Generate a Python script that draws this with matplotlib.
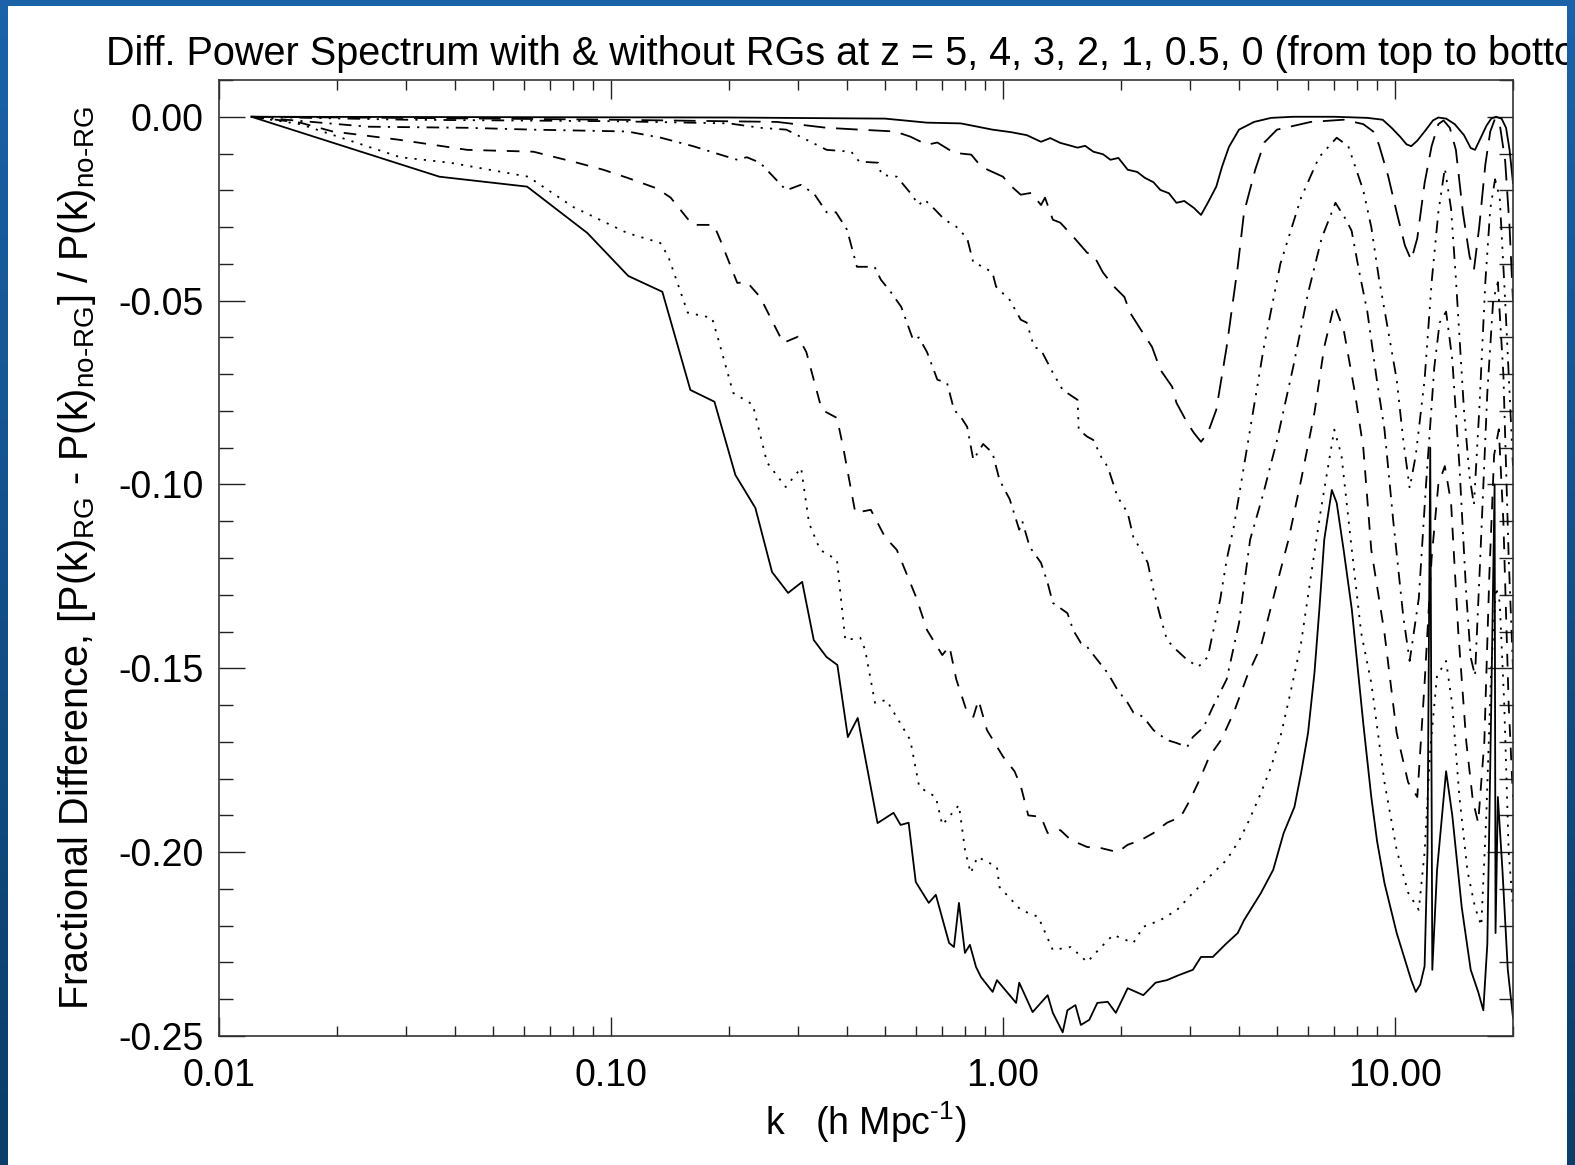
import matplotlib
matplotlib.use("Agg")
import matplotlib.pyplot as plt
import numpy as np
from matplotlib.patches import Rectangle
from matplotlib.colors import LinearSegmentedColormap
from matplotlib.ticker import FixedLocator, LogLocator, NullFormatter, MultipleLocator

plt.rcParams['font.family'] = ['Liberation Sans', 'DejaVu Sans']
plt.rcParams['mathtext.fontset'] = 'custom'
plt.rcParams['mathtext.rm'] = 'Liberation Sans'
plt.rcParams['mathtext.it'] = 'Liberation Sans:italic'

# (k, fractional difference), z = 5 ... 0
z5 = [(0.0121, 0.0), (0.05, -0.0001), (0.2, -0.0002), (0.5, -0.0005), (0.64, -0.0016), (0.78, -0.0018),
      (0.94, -0.0035), (1.05, -0.0042), (1.15, -0.005), (1.25, -0.0068), (1.32, -0.0058), (1.40, -0.0071),
      (1.48, -0.0078), (1.55, -0.0084), (1.62, -0.0079), (1.7, -0.0095), (1.8, -0.0102), (1.88, -0.0117),
      (1.97, -0.0112), (2.08, -0.0144), (2.2, -0.015), (2.3, -0.0166), (2.42, -0.0178), (2.52, -0.0199),
      (2.65, -0.0208), (2.77, -0.0234), (2.9, -0.0229), (3.07, -0.0248), (3.2, -0.0267), (3.33, -0.0234),
      (3.5, -0.019), (3.62, -0.0136), (3.77, -0.0082), (4.0, -0.0035), (4.37, -0.0014), (4.83, -0.0003),
      (5.5, 0.0), (7.0, 0.0), (8.5, -0.0003), (9.3, -0.0008), (9.8, -0.003), (10.3, -0.0054), (10.7, -0.0075),
      (11.0, -0.008), (11.4, -0.0065), (12.0, -0.0035), (12.5, -0.001), (12.9, -0.0002), (13.5, -0.0005),
      (14.2, -0.002), (15.0, -0.005), (15.6, -0.0085), (16.0, -0.009), (16.5, -0.006), (17.1, -0.0025),
      (17.6, -0.0005), (18.1, 0.0), (18.7, -0.0005), (19.2, -0.003), (19.6, -0.009), (20.0, -0.018)]

z4 = [(0.0121, 0.0), (0.05, -0.0005), (0.1, -0.0008), (0.265, -0.0014), (0.355, -0.003), (0.43, -0.0035),
      (0.53, -0.004), (0.58, -0.0054), (0.64, -0.0076), (0.68, -0.007), (0.75, -0.0098), (0.83, -0.0103),
      (0.88, -0.0136), (0.94, -0.015), (1.0, -0.0163), (1.04, -0.0185), (1.11, -0.0212), (1.18, -0.0207),
      (1.25, -0.024), (1.28, -0.022), (1.34, -0.028), (1.40, -0.0288), (1.51, -0.0326), (1.64, -0.037),
      (1.7, -0.0375), (1.8, -0.0424), (1.92, -0.0462), (2.04, -0.049), (2.11, -0.0533), (2.25, -0.058),
      (2.4, -0.0626), (2.52, -0.0688), (2.7, -0.0734), (2.77, -0.0778), (2.95, -0.0832), (3.07, -0.086),
      (3.2, -0.0884), (3.33, -0.086), (3.5, -0.0797), (3.72, -0.0626), (3.97, -0.0408), (4.12, -0.026),
      (4.4, -0.0144), (4.64, -0.007), (5.0, -0.0035), (6.1, -0.0014), (7.4, -0.0008), (8.3, -0.002),
      (8.8, -0.004), (9.1, -0.0076), (9.6, -0.016), (10.1, -0.026), (10.6, -0.035), (11.0, -0.039),
      (11.4, -0.033), (11.9, -0.018), (12.4, -0.008), (12.9, -0.002), (13.3, -0.001), (13.8, -0.003),
      (14.3, -0.009), (14.9, -0.026), (15.5, -0.038), (15.9, -0.0416), (16.4, -0.03), (17.0, -0.013),
      (17.5, -0.004), (18.0, -0.0005), (18.5, -0.002), (19.1, -0.012), (19.6, -0.03), (20.0, -0.05)]

z3 = [(0.0121, 0.0), (0.03, -0.0008), (0.1, -0.0012), (0.2, -0.0018), (0.24, -0.003), (0.28, -0.0035),
      (0.355, -0.009), (0.41, -0.0095), (0.43, -0.0122), (0.48, -0.0125), (0.49, -0.0158), (0.536, -0.0163),
      (0.58, -0.0207), (0.61, -0.024), (0.63, -0.0225), (0.66, -0.0245), (0.71, -0.028), (0.76, -0.0299),
      (0.81, -0.033), (0.84, -0.0397), (0.89, -0.0408), (0.94, -0.0424), (0.96, -0.0462), (1.04, -0.0498),
      (1.11, -0.0552), (1.15, -0.056), (1.20, -0.0626), (1.25, -0.0634), (1.34, -0.0696), (1.42, -0.0743),
      (1.55, -0.077), (1.56, -0.0851), (1.64, -0.087), (1.70, -0.0879), (1.78, -0.0925), (1.85, -0.0952),
      (1.96, -0.1034), (2.08, -0.1077), (2.15, -0.1143), (2.27, -0.1186), (2.34, -0.1213), (2.42, -0.1287),
      (2.52, -0.136), (2.62, -0.1423), (2.77, -0.145), (2.95, -0.1477), (3.15, -0.1496), (3.33, -0.1469),
      (3.43, -0.1404), (3.58, -0.1314), (3.72, -0.1205), (3.88, -0.1115), (4.27, -0.085), (4.64, -0.062),
      (5.1, -0.04), (5.76, -0.022), (6.4, -0.011), (7.1, -0.0057), (7.6, -0.008), (8.3, -0.02), (8.7, -0.03),
      (9.1, -0.044), (9.6, -0.058), (10.1, -0.0715), (10.5, -0.088), (10.9, -0.101), (11.3, -0.092),
      (11.9, -0.0715), (12.4, -0.045), (12.9, -0.026), (13.4, -0.014), (13.9, -0.025), (14.3, -0.044),
      (15.0, -0.08), (15.5, -0.098), (15.9, -0.1055), (16.4, -0.08), (17.0, -0.045), (17.5, -0.025),
      (18.0, -0.017), (18.5, -0.022), (19.1, -0.05), (19.6, -0.075), (20.0, -0.095)]

z2 = [(0.0121, 0.0), (0.024, -0.0027), (0.043, -0.003), (0.063, -0.0035), (0.11, -0.004), (0.134, -0.0057),
      (0.162, -0.008), (0.19, -0.0103), (0.21, -0.0117), (0.222, -0.011), (0.24, -0.0125), (0.28, -0.02),
      (0.305, -0.0185), (0.33, -0.021), (0.355, -0.026), (0.375, -0.026), (0.40, -0.0307), (0.424, -0.0408),
      (0.47, -0.0408), (0.488, -0.0443), (0.52, -0.048), (0.55, -0.0517), (0.59, -0.0607), (0.61, -0.060),
      (0.64, -0.064), (0.68, -0.0715), (0.72, -0.0724), (0.75, -0.0797), (0.78, -0.0816), (0.81, -0.0843),
      (0.84, -0.0933), (0.89, -0.089), (0.94, -0.0914), (0.98, -0.0988), (1.04, -0.104), (1.10, -0.1123),
      (1.12, -0.110), (1.17, -0.117), (1.25, -0.1213), (1.30, -0.1268), (1.34, -0.1322), (1.46, -0.135),
      (1.51, -0.1396), (1.58, -0.1431), (1.64, -0.1442), (1.74, -0.1477), (1.85, -0.1513), (1.96, -0.1559),
      (2.08, -0.1594), (2.15, -0.162), (2.28, -0.1632), (2.42, -0.1668), (2.62, -0.1695), (2.77, -0.1703),
      (2.95, -0.1714), (3.05, -0.1687), (3.25, -0.166), (3.43, -0.1605), (3.72, -0.153), (4.0, -0.1377),
      (4.27, -0.115), (4.6, -0.103), (5.0, -0.088), (5.5, -0.068), (6.0, -0.048), (6.5, -0.033),
      (7.05, -0.0234), (7.5, -0.028), (7.75, -0.031), (8.1, -0.042), (8.5, -0.053), (9.0, -0.072),
      (9.4, -0.085), (9.9, -0.11), (10.5, -0.136), (10.9, -0.148), (11.5, -0.131), (12.0, -0.10),
      (12.6, -0.068), (13.0, -0.056), (13.5, -0.053), (14.0, -0.066), (14.6, -0.095), (15.2, -0.13),
      (15.6, -0.147), (16.0, -0.152), (16.5, -0.12), (17.2, -0.075), (17.8, -0.05), (18.3, -0.045),
      (18.9, -0.07), (19.5, -0.12), (20.0, -0.15)]

z1 = [(0.0121, 0.0), (0.0161, -0.0016), (0.0195, -0.004), (0.029, -0.0063), (0.043, -0.009), (0.0634, -0.0095),
      (0.082, -0.0125), (0.0955, -0.0144), (0.1101, -0.0166), (0.131, -0.0195), (0.142, -0.022),
      (0.1614, -0.0294), (0.183, -0.0294), (0.19, -0.0335), (0.21, -0.0452), (0.222, -0.0449), (0.24, -0.049),
      (0.275, -0.0615), (0.30, -0.0598), (0.315, -0.064), (0.345, -0.0797), (0.377, -0.0819), (0.391, -0.0898),
      (0.42, -0.1077), (0.46, -0.1069), (0.50, -0.1143), (0.536, -0.1178), (0.60, -0.1306), (0.64, -0.1396),
      (0.70, -0.1464), (0.73, -0.144), (0.76, -0.153), (0.81, -0.162), (0.84, -0.1632), (0.866, -0.1586),
      (0.91, -0.1668), (1.0, -0.174), (1.07, -0.178), (1.11, -0.182), (1.16, -0.190), (1.25, -0.1904),
      (1.30, -0.1948), (1.40, -0.194), (1.49, -0.1967), (1.64, -0.1986), (1.78, -0.1989), (1.96, -0.2),
      (2.08, -0.198), (2.25, -0.1967), (2.42, -0.1948), (2.62, -0.192), (2.84, -0.1904), (3.0, -0.1858),
      (3.17, -0.1804), (3.36, -0.174), (3.6, -0.1695), (3.88, -0.162), (4.2, -0.152), (4.55, -0.144),
      (5.0, -0.127), (5.35, -0.115), (5.76, -0.0988), (6.23, -0.0805), (6.6, -0.0626), (7.0, -0.0511),
      (7.4, -0.058), (7.9, -0.075), (8.3, -0.09), (8.7, -0.1178), (9.4, -0.1404), (10.1, -0.1676),
      (10.8, -0.181), (11.4, -0.185), (11.9, -0.154), (12.4, -0.12), (12.9, -0.10), (13.4, -0.095),
      (13.9, -0.105), (14.5, -0.14), (15.2, -0.17), (15.8, -0.186), (16.3, -0.192), (16.9, -0.17),
      (17.4, -0.125), (17.9, -0.092), (18.4, -0.085), (18.9, -0.11), (19.5, -0.16), (20.0, -0.185)]

z05 = [(0.0121, 0.0), (0.0161, -0.002), (0.029, -0.011), (0.0389, -0.0125), (0.0615, -0.0163), (0.080, -0.0245),
       (0.110, -0.0316), (0.1335, -0.0343), (0.14, -0.038), (0.157, -0.0533), (0.181, -0.0547),
       (0.188, -0.0607), (0.205, -0.0751), (0.230, -0.0783), (0.25, -0.094), (0.279, -0.1007),
       (0.3055, -0.0955), (0.32, -0.1105), (0.3415, -0.1178), (0.377, -0.1205), (0.396, -0.1423),
       (0.4325, -0.1417), (0.445, -0.145), (0.4715, -0.1594), (0.504, -0.1586), (0.58, -0.1695),
       (0.6115, -0.1823), (0.674, -0.185), (0.70, -0.1926), (0.772, -0.1872), (0.80, -0.1994),
       (0.827, -0.2057), (0.861, -0.2013), (0.965, -0.204), (0.98, -0.2095), (1.11, -0.2157),
       (1.23, -0.2176), (1.34, -0.2266), (1.49, -0.2258), (1.64, -0.2299), (1.78, -0.2258), (1.91, -0.2225),
       (2.15, -0.2247), (2.28, -0.2203), (2.52, -0.2185), (2.78, -0.2157), (3.05, -0.2111), (3.36, -0.2067),
       (3.72, -0.2021), (4.01, -0.1967), (4.25, -0.1912), (4.55, -0.1839), (4.83, -0.1768), (5.13, -0.1676),
       (5.43, -0.1559), (5.76, -0.1431), (6.12, -0.124), (6.49, -0.106), (7.0, -0.0851), (7.3, -0.092),
       (7.76, -0.1178), (8.2, -0.1404), (8.7, -0.154), (9.4, -0.181), (10.1, -0.1994), (10.8, -0.211),
       (11.5, -0.2157), (11.9, -0.20), (12.3, -0.172), (12.8, -0.152), (13.5, -0.148), (14.0, -0.16),
       (14.6, -0.185), (15.3, -0.205), (16.0, -0.215), (16.6, -0.220), (17.1, -0.19), (17.6, -0.15),
       (18.1, -0.128), (18.5, -0.132), (19.0, -0.16), (19.5, -0.20), (20.0, -0.215)]

z0 = [(0.0121, 0.0), (0.0365, -0.0163), (0.0611, -0.019), (0.087, -0.0316), (0.1107, -0.0433), (0.1352, -0.0476),
      (0.1594, -0.0743), (0.1836, -0.0775), (0.2076, -0.0974), (0.2335, -0.1064), (0.2575, -0.1238),
      (0.283, -0.1295), (0.3074, -0.1265), (0.329, -0.1423), (0.3545, -0.1469), (0.378, -0.1491),
      (0.402, -0.1687), (0.426, -0.1635), (0.4786, -0.1921), (0.5257, -0.1893), (0.548, -0.1926),
      (0.5745, -0.192), (0.599, -0.2081), (0.6465, -0.2138), (0.674, -0.2116), (0.7286, -0.2247),
      (0.7497, -0.2258), (0.772, -0.2138), (0.7997, -0.2274), (0.8234, -0.2252), (0.8533, -0.2312),
      (0.879, -0.234), (0.941, -0.238), (0.965, -0.2348), (1.08, -0.241), (1.1, -0.2355), (1.19, -0.2435),
      (1.30, -0.2389), (1.34, -0.2437), (1.42, -0.249), (1.46, -0.243), (1.53, -0.2416), (1.58, -0.247),
      (1.66, -0.2456), (1.74, -0.241), (1.85, -0.2407), (1.94, -0.2437), (2.08, -0.237), (2.28, -0.2389),
      (2.45, -0.2355), (2.62, -0.2348), (2.8, -0.2335), (3.05, -0.232), (3.2, -0.2285), (3.43, -0.2285),
      (3.7, -0.225), (3.97, -0.222), (4.12, -0.2185), (4.55, -0.2111), (4.89, -0.2048), (5.2, -0.1948),
      (5.54, -0.1877), (5.76, -0.1785), (6.0, -0.1676), (6.23, -0.1513), (6.42, -0.1333), (6.6, -0.115),
      (6.9, -0.1015), (7.1, -0.105), (7.4, -0.118), (7.76, -0.134), (8.3, -0.165), (8.7, -0.185),
      (9.0, -0.197), (9.4, -0.2084), (10.1, -0.222), (11.0, -0.2348), (11.3, -0.238), (11.6, -0.236),
      (11.9, -0.231), (12.1, -0.20), (12.3, -0.09), (12.45, -0.232), (12.8, -0.205), (13.5, -0.178),
      (14.0, -0.19), (14.8, -0.215), (15.6, -0.232), (16.3, -0.238), (16.8, -0.243), (17.2, -0.225),
      (17.6, -0.16), (17.95, -0.10), (18.05, -0.222), (18.3, -0.185), (18.8, -0.205), (19.4, -0.232),
      (20.0, -0.245)]

curves = [z5, z4, z3, z2, z1, z05, z0]
# IDL-like line styles: solid, long dash, dash-dot-dot-dot, dash-dot, dashed, dotted, solid
styles = ['-', (0, (12, 6)), (0, (7, 4, 1.2, 4, 1.2, 4, 1.2, 4)), (0, (7, 4, 1.2, 4)),
          (0, (7, 6)), (0, (1.2, 4)), '-']

xticks = [0.01, 0.1, 1.0, 10.0]
xticklabels = ['0.01', '0.10', '1.00', '10.00']
yticks = [-0.25, -0.20, -0.15, -0.10, -0.05, 0.0]
yticklabels = ['-0.25', '-0.20', '-0.15', '-0.10', '-0.05', '0.00']

W, H = 1575, 1165
fig = plt.figure(figsize=(W / 100, H / 100), dpi=100)

# blue slide background with white card
bg = fig.add_axes([0, 0, 1, 1], zorder=-10)
grad = np.linspace(0, 1, 64).reshape(-1, 1)
bg.imshow(grad, aspect='auto', extent=[0, 1, 0, 1],
          cmap=LinearSegmentedColormap.from_list('slide', ['#1b62a8', '#0b3e69']))
bg.axis('off')
card = Rectangle((8 / W, 0), (1567 - 8) / W, (H - 6) / H, transform=fig.transFigure,
                 facecolor='white', edgecolor='none', zorder=-5)
fig.add_artist(card)

ax = fig.add_axes([219 / W, 1 - 1036 / H, (1513 - 219) / W, (1036 - 80) / H])
for data, ls in zip(curves, styles):
    k, d = np.array(data).T
    ax.plot(k, d, color='black', lw=1.3, linestyle=ls)

ax.set_xscale('log')
ax.set_xlim(0.01, 20)
ax.set_ylim(-0.25, 0.01)
ax.xaxis.set_major_locator(FixedLocator(xticks))
ax.set_xticklabels(xticklabels)
ax.xaxis.set_minor_locator(LogLocator(base=10, subs=np.arange(2, 10)))
ax.xaxis.set_minor_formatter(NullFormatter())
ax.yaxis.set_major_locator(FixedLocator(yticks))
ax.set_yticklabels(yticklabels)
ax.yaxis.set_minor_locator(MultipleLocator(0.01))

for s in ax.spines.values():
    s.set_color('#333333')
    s.set_linewidth(1.2)
ax.tick_params(which='both', direction='in', top=True, right=True, width=1.0,
               color='#222222', labelsize=27)
ax.tick_params(axis='y', which='major', length=19, pad=11)
ax.tick_params(axis='y', which='minor', length=10)
ax.tick_params(axis='x', which='major', length=14, pad=16)
ax.tick_params(axis='x', which='minor', length=7.5)

ax.set_xlabel(r'k   (h Mpc$^{\text{-1}}$)', fontsize=27, labelpad=4)
ax.set_ylabel(r'Fractional Difference, [P(k)$_{\rm RG}$ - P(k)$_{\text{no-RG}}$] / P(k)$_{\text{no-RG}}$',
              fontsize=28.5, labelpad=15)

title = fig.text(106 / W, 1 - 65 / H,
                 'Diff. Power Spectrum with & without RGs at z = 5, 4, 3, 2, 1, 0.5, 0 (from top to bottom)',
                 fontsize=28.5, ha='left', va='baseline')
title.set_clip_path(card)

fig.savefig('out.png', dpi=100)
